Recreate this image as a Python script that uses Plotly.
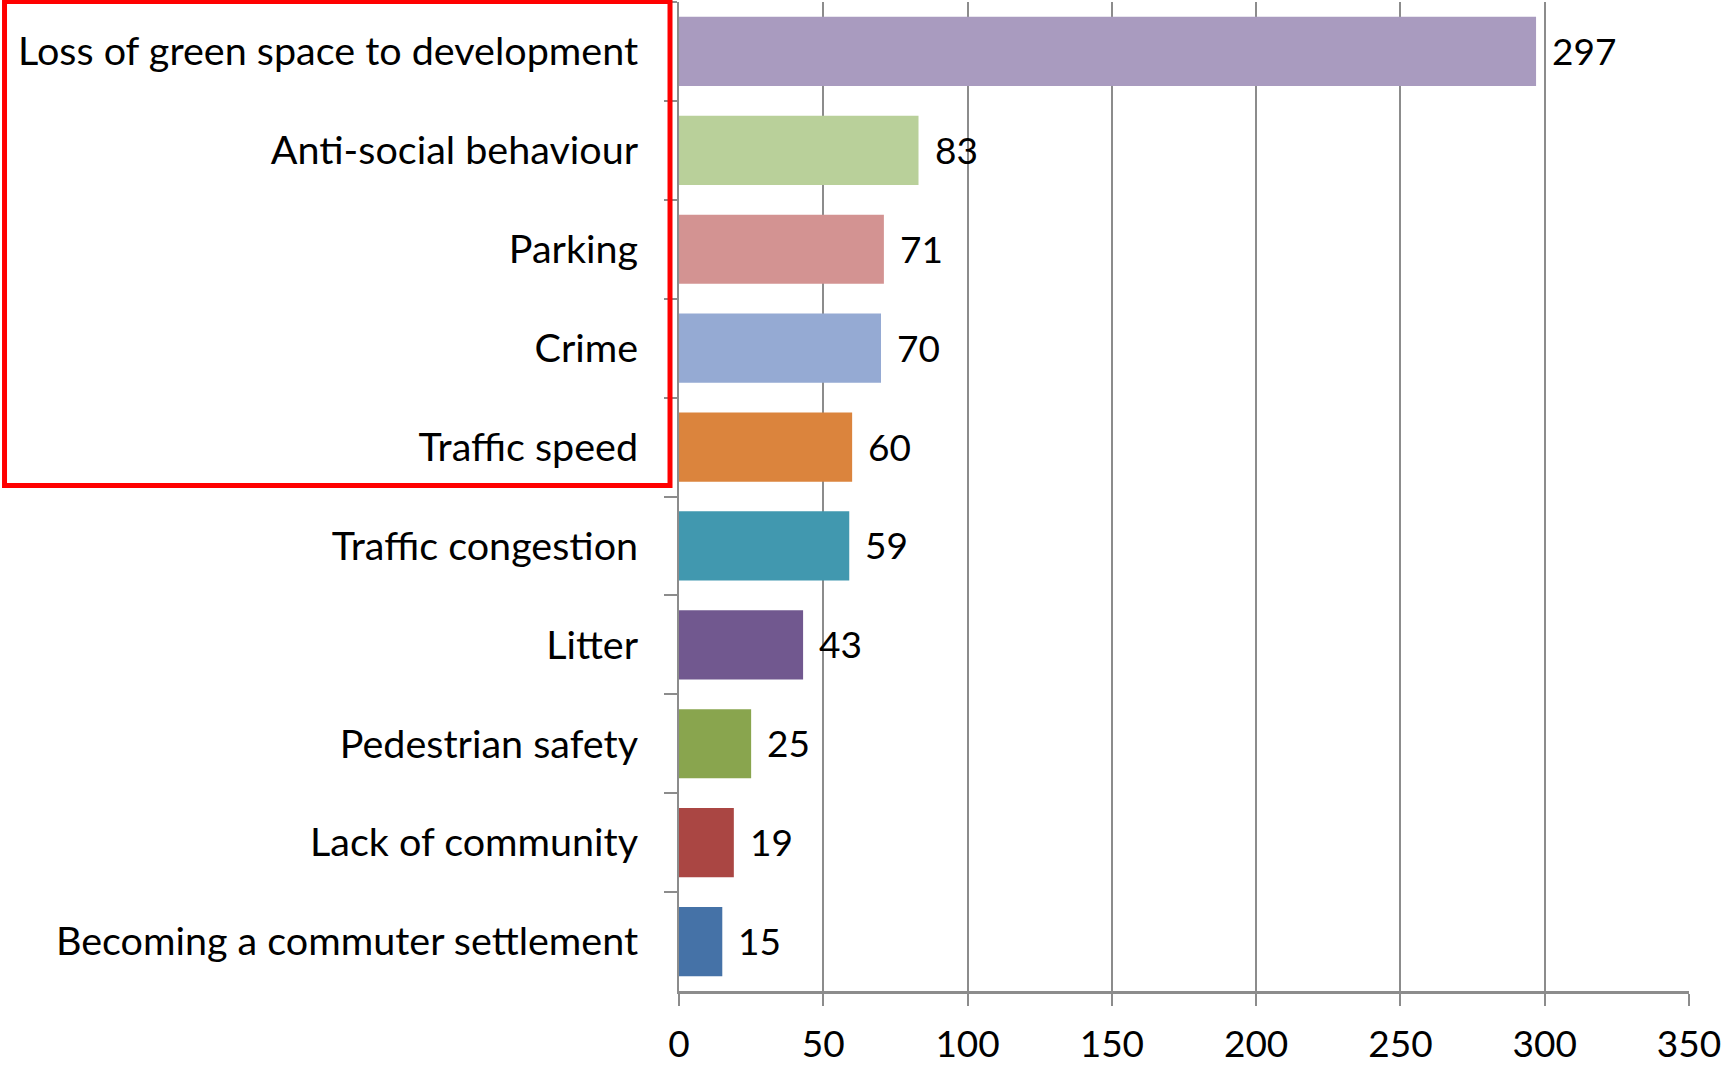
import plotly.graph_objects as go

# Survey responses: main concerns about the area
categories = [
    "Loss of green space to development",
    "Anti-social behaviour",
    "Parking",
    "Crime",
    "Traffic speed",
    "Traffic congestion",
    "Litter",
    "Pedestrian safety",
    "Lack of community",
    "Becoming a commuter settlement",
]
counts = [297, 83, 71, 70, 60, 59, 43, 25, 19, 15]
bar_colors = [
    "#A99BBF", "#B9D09A", "#D39392", "#95AAD3", "#DB843D",
    "#4198AF", "#71588F", "#89A54E", "#AA4643", "#4572A7",
]
x_ticks = [0, 50, 100, 150, 200, 250, 300, 350]

FONT = "Lato, Carlito, Calibri, sans-serif"
GRID = "#8c8c8c"

fig = go.Figure(
    go.Bar(
        x=counts,
        y=categories,
        orientation="h",
        marker=dict(color=bar_colors, line=dict(width=0)),
        width=0.7,
        hoverinfo="x+y",
    )
)

# value labels to the right of each bar
for cat, val in zip(categories, counts):
    fig.add_annotation(
        x=val, y=cat, text=str(val), showarrow=False,
        xanchor="left", yanchor="middle", xshift=14, yshift=1,
        font=dict(family=FONT, size=37, color="#000000"),
    )

# highlight box around the top five concerns
fig.add_shape(
    type="rect", xref="paper", yref="paper",
    x0=-0.6678, x1=-0.0089, y0=1.0005, y1=0.5111,
    line=dict(color="#ff0000", width=5), fillcolor="rgba(0,0,0,0)",
    layer="above",
)

fig.update_layout(
    width=1725, height=1065,
    margin=dict(l=679, r=36, t=2, b=74, autoexpand=False),
    paper_bgcolor="#ffffff", plot_bgcolor="#ffffff",
    font=dict(family=FONT, size=37, color="#000000"),
    showlegend=False,
    bargap=0.3,
)
fig.update_xaxes(
    range=[0, 350], tickvals=x_ticks, ticktext=[str(t) for t in x_ticks],
    tickfont=dict(size=37),
    showgrid=True, gridcolor=GRID, gridwidth=1.5,
    showline=True, linecolor=GRID, linewidth=2.5,
    ticks="outside", ticklen=12, tickcolor=GRID, tickwidth=1.5,
    ticklabelstandoff=7, zeroline=False, fixedrange=True,
)
fig.update_yaxes(
    autorange="reversed", type="category",
    tickfont=dict(size=39.5),
    showgrid=False, showline=True, linecolor=GRID, linewidth=2,
    ticks="outside", tickson="boundaries", ticklen=13, tickcolor=GRID, tickwidth=1.5,
    ticklabelstandoff=31, fixedrange=True,
)

fig.write_html("out.html")
